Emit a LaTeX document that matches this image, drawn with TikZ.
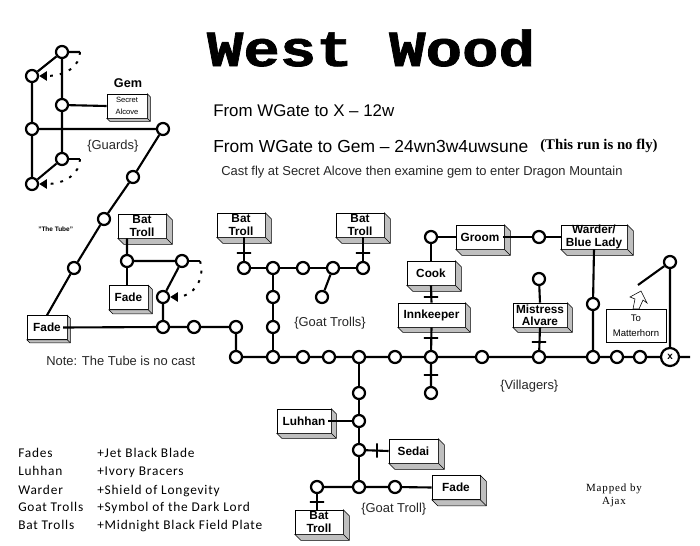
\documentclass[tikz,border=0pt]{standalone}
\usepackage{fontspec}
\setmainfont{Liberation Sans}
\newfontfamily\titlefont[BoldFeatures={FakeBold=1.3}]{Liberation Mono}
\newfontfamily\runfont{Liberation Serif}
\newfontfamily\lootfont[LetterSpace=6]{Carlito}
\newfontfamily\mapfont[LetterSpace=8]{Liberation Serif}
\usetikzlibrary{arrows.meta,calc}
\newcommand{\mobbox}[5][5]{%
  \node[mob, minimum width=#4*0.025cm, #3] (#2) {#5};
  \draw[depth] (#2.north east) -- ++(#1,#1) -- ($(#2.south east)+(#1,#1)$) -- ($(#2.south west)+(#1,#1)$) -- (#2.south west) -- (#2.south east) -- cycle;
  \draw[thin] (#2.south east) -- ++(#1,#1);
}
\begin{document}
\begin{tikzpicture}[x=0.025cm, y=-0.025cm]
    \tikzset{room/.style={circle, draw, fill=white, line width=1.6pt, inner sep=0pt, minimum size=0.3cm}}
    \tikzset{link/.style={line width=1.5pt}}
    \tikzset{hbar/.style={draw, line width=1.4pt, inner sep=0pt, minimum width=0.35cm, minimum height=0pt}}
    \tikzset{vbar/.style={draw, line width=1.4pt, inner sep=0pt, minimum height=0.35cm, minimum width=0pt}}
    \tikzset{mob/.style={draw, fill=white, thin, inner sep=0pt, minimum height=0.6cm, align=center, font=\fontsize{8.4}{8.8}\selectfont\bfseries}}
    \tikzset{depth/.style={thin, fill=black!25}}
    \tikzset{fall/.style={line width=1.4pt, dash pattern=on 2pt off 5pt, -{Triangle[length=5.5pt,width=6.5pt]}}}
    \tikzset{note/.style={inner sep=0pt, anchor=west, font=\fontsize{9.2}{10}\selectfont, text=black!85}}
    \tikzset{loot/.style={inner sep=0pt, anchor=base west, font=\fontsize{9.5}{10}\lootfont}}
    \useasboundingbox (0,0) rectangle (700,546);

    \foreach \name/\x/\y in {g1/62/52, g2/32/76, g3/62/105, g4/32/129, g5/163/129, g6/62/159, g7/32/184,
        t1/133/177, t2/104/219, t3/74/268,
        b1/127/261, b2/182/261, b3/163/297, b4/163/327, b5/194/327, b6/236/327,
        m1/236/357, m2/273/357, m3/303/357, m4/329/357, m5/359/357, m6/395/357, m7/431/357,
        m8/482/357, m9/539/357, m10/593/357, m11/617/357, m12/640/357,
        n1/244/268, n2/273/268, n3/303/268, n4/333/268, n5/363/268, n6/322/297, n7/273/297, n8/273/327,
        c1/431/237, c2/539/237, c3/593/304, c4/539/279, c5/431/393, c6/670/262,
        s1/359/393, s2/359/421, s3/359/450, s4/359/487, s5/395/487, s6/317/487}
        \node[room] (\name) at (\x,\y) {};
    \node[room, minimum size=0.45cm, font=\fontsize{7}{8}\selectfont\bfseries] (gate) at (670,357) {x};

    \coordinate (d1) at (80,52);
    \coordinate (d2) at (80,159);
    \coordinate (d3) at (200,261);
    \coordinate (d4) at (638,285);
    \coordinate (d5) at (690,357);

    \mobbox[3]{gem}{at={(127,106)}, font=\fontsize{5.4}{8}\selectfont\mdseries}{40}{Secret\\Alcove}
    \mobbox[3]{fade1}{at={(47,327.5)}}{40}{Fade}
    \mobbox[6]{bat1}{at={(142,226)}}{48}{Bat\\Troll}
    \mobbox[4]{fade2}{at={(128.5,297.5)}}{39}{Fade}
    \mobbox[6]{bat2}{at={(241,225)}}{48}{Bat\\Troll}
    \mobbox[6]{bat3}{at={(360,225)}}{48}{Bat\\Troll}
    \mobbox[6]{cook}{at={(431,273)}}{48}{Cook}
    \mobbox[5]{inn}{at={(431.5,315)}}{67}{Innkeeper}
    \mobbox[6]{groom}{at={(480,237)}}{48}{Groom}
    \mobbox[6]{warder}{at={(594,237)}}{66}{Warder/\\Blue Lady}
    \mobbox[5]{alvare}{at={(540,315)}}{54}{Mistress\\Alvare}
    \mobbox[5]{luhhan}{at={(304,421)}}{54}{Luhhan}
    \mobbox[6]{sedai}{at={(413.5,451)}}{49}{Sedai}
    \mobbox[6]{fade3}{at={(456,487.5)}}{48}{Fade}
    \mobbox[6]{bat4}{at={(319,522)}}{48}{Bat\\Troll}

    \draw[fill=white, thin] (641,291) -- (630,297) -- (635,299) -- (633,309) -- (639,309) -- (643,300) -- (647,303) -- cycle;
    \node[draw, thin, inner sep=0pt, minimum width=1.5cm, minimum height=0.82cm, align=center,
        font=\fontsize{6.8}{11}\selectfont] (matter) at (636,325.5) {To\\Matterhorn};

    \draw[link] (d1) -- (g1) -- (g2) -- (g4) -- (g7) -- (g6) -- (g3) -- (g1);
    \draw[link] (d2) -- (g6);
    \draw[link] (g3) -- (gem.west);
    \draw[link] (g4) -- (g5) -- (t1) -- (t2) -- (t3) -- (fade1.north);
    \draw[link] ([xshift=-3pt]fade1.east) -- (b4) -- (b5) -- (b6) -- (m1) -- (m2) -- (m3) -- (m4) -- (m5) -- (m6) -- (m7) -- (m8) -- (m9) -- (m10) -- (m11) -- (m12) -- (gate) -- (d5);
    \draw[link] (b4) -- (b3) -- (b2) -- (b1) -- (bat1.south -| b1);
    \draw[link] (b1) -- (fade2.north -| b1);
    \draw[link] (b2) -- (d3);
    \draw[link] (m2) -- (n8) -- (n7) -- (n2);
    \draw[link] (n1) -- (n2) -- (n3) -- (n4) -- (n5);
    \draw[link] (n4) -- (n6);
    \draw[link] (n1) -- (bat2.south -| n1);
    \draw[link] (n5) -- (bat3.south -| n5);
    \draw[link] (c5) -- (m7) -- (inn.south);
    \draw[link] (inn.north) -- (cook.south);
    \draw[link] (cook.north) -- (c1) -- (groom.west);
    \draw[link] ([xshift=-1pt]groom.east) -- (c2) -- (warder.west);
    \draw[link] (warder.south) -- (c3) -- (m10);
    \draw[link] (m9) -- (alvare.south);
    \draw[link] (alvare.north) -- (c4);
    \draw[link] (gate) -- (c6) -- (d4);
    \draw[link] (m5) -- (s1) -- (s2) -- (s3) -- (s4);
    \draw[link] (s2) -- ([xshift=-2pt]luhhan.east);
    \draw[link] (s3) -- (sedai.west);
    \draw[link] (s6) -- (s4) -- (s5) -- (fade3.west);
    \draw[link] (s6) -- (bat4.north -| s6);

    \foreach \name/\x/\y in {h1/244/253, h2/363/253, h3/431/297, h4/431/338, h5/431/375, h6/539/342, h7/317/502}
        \node[hbar] (\name) at (\x,\y) {};
    \node[vbar] (h8) at (377,450.5) {};

    \draw[fall] (d1) .. controls (80,66) and (66,76) .. (g2);
    \draw[fall] (d2) .. controls (80,173) and (66,184) .. (g7);
    \draw[fall] (d3) .. controls (206,280) and (192,297) .. (b3);

    \node[inner sep=0pt, xscale=1.2, font=\fontsize{36}{36}\selectfont\titlefont\bfseries] (title) at (371,48) {West Wood};
    \node[note, font=\fontsize{12}{12}\selectfont, text=black] (run1) at (213,111) {From WGate to X -- 12w};
    \node[note, font=\fontsize{12.4}{12}\selectfont, text=black] (run2) at (213,146) {From WGate to Gem -- 24wn3w4uwsune};
    \node[note, font=\fontsize{10.5}{10}\selectfont\runfont\bfseries, text=black] (run3) at (540,146) {(This run is no fly)};
    \node[note] (cast) at (221,172) {Cast fly at Secret Alcove then examine gem to enter Dragon Mountain};
    \node[inner sep=0pt, font=\fontsize{9}{10}\selectfont\bfseries] (gemlabel) at (128,83.5) {Gem};
    \node[note] (guards) at (87,146) {\{Guards\}};
    \node[note, font=\fontsize{4.6}{5}\selectfont\bfseries, text=black] (tube) at (38,229) {"The Tube"};
    \node[note] (nocast) at (46,361) {Note: The Tube is no cast};
    \node[note] (goats) at (294,323) {\{Goat Trolls\}};
    \node[note] (villagers) at (500,386) {\{Villagers\}};
    \node[note] (goat) at (361,509) {\{Goat Troll\}};
    \node[inner sep=0pt, align=center, font=\fontsize{7.8}{9.2}\mapfont] (mapped) at (614,495) {Mapped by\\Ajax};

    \foreach \name/\who/\what/\y in {l1/Fades/+Jet Black Blade/457, l2/Luhhan/+Ivory Bracers/475,
        l3/Warder/+Shield of Longevity/494, l4/Goat Trolls/+Symbol of the Dark Lord/511, l5/Bat Trolls/+Midnight Black Field Plate/529} {
        \node[loot] (\name a) at (18,\y) {\who};
        \node[loot] (\name b) at (97,\y) {\what};
    }
\end{tikzpicture}
\end{document}
